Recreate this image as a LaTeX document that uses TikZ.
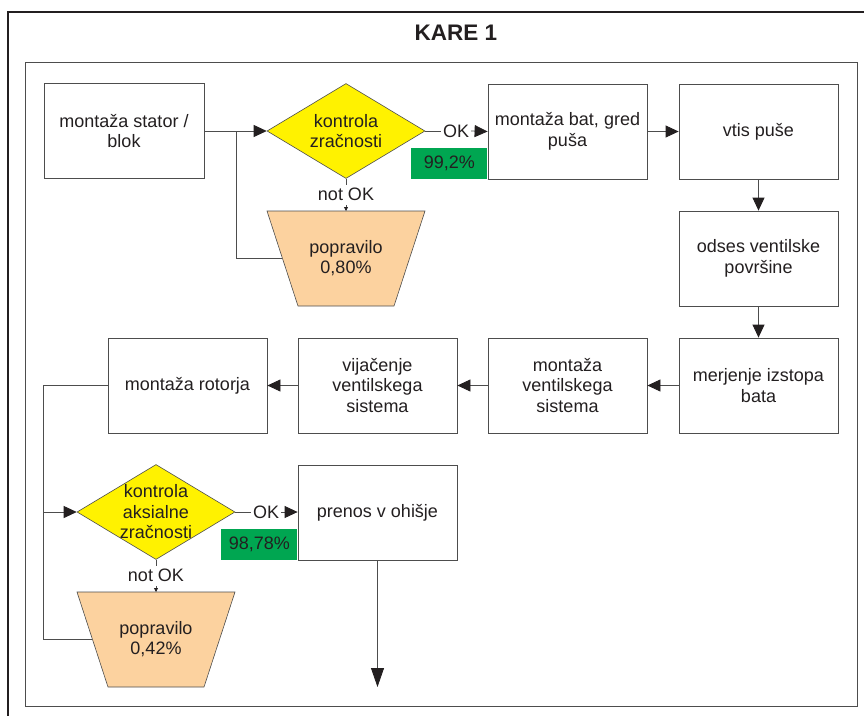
\documentclass[tikz,border=0pt]{standalone}
\usepackage{fontspec}
\setmainfont{Liberation Sans}
\usetikzlibrary{arrows.meta,shapes.geometric,calc}

\definecolor{ink}{HTML}{231F20}
\definecolor{wire}{HTML}{4D4D4D}
\definecolor{dyellow}{HTML}{FFF200}
\definecolor{okgreen}{HTML}{00A651}
\definecolor{peach}{HTML}{FCD29F}

\tikzset{
  every node/.style={text=ink, font=\fontsize{18}{20.5}\selectfont},
  stepbox/.style={draw=wire, line width=0.8pt, fill=white, rectangle,
    minimum width=159pt, minimum height=95pt, inner sep=0pt, align=center},
  decision/.style={draw=wire, line width=0.6pt, fill=dyellow, diamond,
    minimum width=158pt, minimum height=95pt, inner sep=0pt},
  fixbox/.style={draw=wire, line width=0.6pt, fill=peach},
  share/.style={fill=okgreen, minimum width=76pt, minimum height=31pt,
    inner sep=0pt},
  txt/.style={align=center, inner sep=1pt},
  wireline/.style={draw=wire, line width=0.8pt},
  arr/.style={wireline, -{Triangle[length=13pt,width=12pt,color=ink]}},
  longarr/.style={wireline, -{Triangle[length=19pt,width=13pt,color=ink]}},
  tinyarr/.style={wireline, -{Triangle[length=4pt,width=4pt,color=ink]}},
}

\begin{document}
\begin{tikzpicture}[x=1pt, y=-1pt]
  \useasboundingbox (0,0) rectangle (864,715);
  \clip (0,0) rectangle (864,715);

  % frames
  \draw[ink, line width=1.4pt] (8,730) -- (8,12) -- (880,12);
  \draw[wire, line width=0.9pt] (25,62) rectangle (857,706);
  \node[font=\bfseries\fontsize{22.5}{26}\selectfont] (title) at (456,33) {KARE 1};

  % top row
  \node[stepbox, minimum width=160pt] (stator) at (124,131) {montaža stator /\\blok};
  \node[decision] (d1) at (346,131) {};
  \node[txt] (d1t) at (d1) {kontrola\\zračnosti};
  \node[stepbox] (bat) at (567.5,131.5) {montaža bat, gred\\puša};
  \node[stepbox] (vtis) at (758.5,131.5) {vtis puše};
  \node[share, anchor=north east] (p1) at ($(bat.west)+(0,16)$) {};
  \node at (p1) {99,2\%};

  % right column
  \node[stepbox] (odses) at (758.5,258.5) {odses ventilske\\površine};
  \node[stepbox] (merj) at (758.5,385.5) {merjenje izstopa\\bata};

  % second row
  \node[stepbox] (ventil) at (567.5,385.5) {montaža\\ventilskega\\sistema};
  \node[stepbox] (vijac) at (377.5,385.5) {vijačenje\\ventilskega\\sistema};
  \node[stepbox] (rotor) at (187.5,385.5) {montaža rotorja};

  % bottom part
  \node[decision] (d2) at (156,512) {};
  \node[txt] (d2t) at (d2) {kontrola\\aksialne\\zračnosti};
  \node[stepbox] (prenos) at (377.5,512.5) {prenos v ohišje};
  \node[share, anchor=north east] (p2) at ($(prenos.west)+(0,16)$) {};
  \node at (p2) {98,78\%};

  % repair trapezoids
  \coordinate (r1tl) at (267,211); \coordinate (r1tr) at (425,211);
  \coordinate (r1br) at (394,306); \coordinate (r1bl) at (298,306);
  \filldraw[fixbox] (r1tl) -- (r1tr) -- (r1br) -- (r1bl) -- cycle;
  \node[txt] (r1) at (346,258) {popravilo\\0,80\%};
  \coordinate (r1top) at (346,211);
  \coordinate (r1side) at (282,258);

  \coordinate (r2tl) at (77,592); \coordinate (r2tr) at (235,592);
  \coordinate (r2br) at (204,687); \coordinate (r2bl) at (108,687);
  \filldraw[fixbox] (r2tl) -- (r2tr) -- (r2br) -- (r2bl) -- cycle;
  \node[txt] (r2) at (156,639) {popravilo\\0,42\%};
  \coordinate (r2top) at (156,592);
  \coordinate (r2side) at (92,639);

  % decision 1 branches
  \node[inner sep=2pt] (ok1) at (456,131) {OK};
  \draw[wireline] (d1.east) -- (ok1.west);
  \draw[arr] (ok1.east) -- (bat.west);
  \node[inner sep=0pt] (nok1) at (346,194) {not OK};
  \coordinate (nok1a) at (346,185);
  \coordinate (nok1b) at (346,205);
  \draw[wireline] (d1.south) -- (nok1a);
  \draw[tinyarr] (nok1b) -- (r1top);

  % decision 2 branches
  \node[inner sep=2pt] (ok2) at (266,512) {OK};
  \draw[wireline] (d2.east) -- (ok2.west);
  \draw[arr] (ok2.east) -- (ok2.east -| prenos.west);
  \node[inner sep=0pt] (nok2) at (156,575) {not OK};
  \coordinate (nok2a) at (156,566);
  \coordinate (nok2b) at (156,586);
  \draw[wireline] (d2.south) -- (nok2a);
  \draw[tinyarr] (nok2b) -- (r2top);

  % main flow
  \coordinate (j1) at (236,131);
  \draw[arr] (stator.east) -- (d1.west);
  \draw[wireline] (r1side) -- (r1side -| j1) -- (j1);
  \draw[arr] (bat.east) -- (vtis.west);
  \draw[arr] (vtis.south) -- (odses.north);
  \draw[arr] (odses.south) -- (merj.north);
  \draw[arr] (merj.west) -- (ventil.east);
  \draw[arr] (ventil.west) -- (vijac.east);
  \draw[arr] (vijac.west) -- (rotor.east);

  \coordinate (j2) at (43,385.5);
  \draw[wireline] (rotor.west) -- (j2) -- (j2 |- r2side) -- (r2side);
  \draw[arr] (j2 |- d2.west) -- (d2.west);

  \coordinate (out) at (377.5,687);
  \draw[longarr] (prenos.south) -- (out);
\end{tikzpicture}
\end{document}
